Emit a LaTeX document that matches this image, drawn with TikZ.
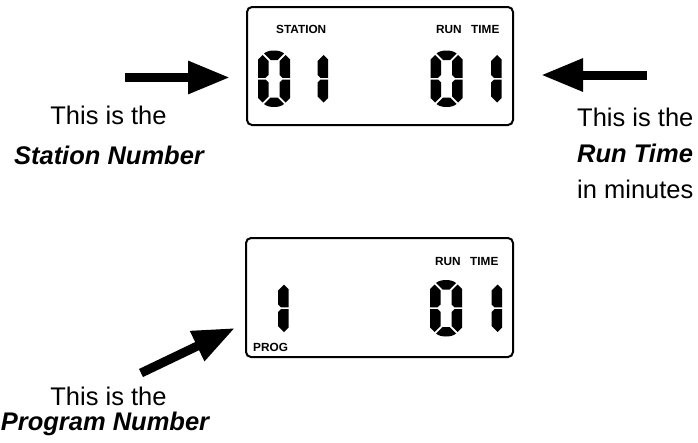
\documentclass[tikz,border=0pt]{standalone}
\usepackage{fontspec}
\setmainfont{Liberation Sans}
\usetikzlibrary{arrows.meta}
\tikzset{
  lcd/.style={draw=black, line width=2pt, rounded corners=5pt},
  seg/.style={fill=black, draw=none},
  lbl/.style={font=\fontsize{11.8}{14}\selectfont\bfseries, inner sep=0pt, anchor=base west},
  big/.style={font=\fontsize{25.5}{30}\selectfont, inner sep=0pt},
  bigbi/.style={font=\fontsize{25.5}{30}\selectfont\bfseries\itshape, inner sep=0pt},
  fatarrow/.style={line width=9pt, -{Triangle[length=42pt,width=31pt]}},
  segb/.pic={
    \fill[seg] (32,10) -- (27.5,5.5) -- (21.5,11.5) -- (21.5,25.5) -- (24.5,28.4) -- (32,28.4) -- cycle;
    \fill[seg] (32,30) -- (24.5,30) -- (21.5,33) -- (21.5,47) -- (27.5,53) -- (32,48.5) -- cycle;
  },
  digitzero/.pic={
    \fill[seg] (0,10) -- (4.5,5.5) -- (10.5,11.5) -- (10.5,25.5) -- (7.5,28.4) -- (0,28.4) -- cycle;
    \fill[seg] (0,30) -- (7.5,30) -- (10.5,33) -- (10.5,47) -- (4.5,53) -- (0,48.5) -- cycle;
    \pic {segb};
    \fill[seg] (6,4) .. controls (10,0) and (22,0) .. (26,4) -- (19.5,10.5) -- (12.5,10.5) -- cycle;
    \fill[seg] (6,54.5) .. controls (10,58.5) and (22,58.5) .. (26,54.5) -- (19.5,48) -- (12.5,48) -- cycle;
  },
  digitone/.pic={
    \pic {segb};
  }
}
\begin{document}
\begin{tikzpicture}[x=1pt,y=-1pt]
\useasboundingbox (0,0) rectangle (698,442);
% top display
\draw[lcd] (247,7) rectangle (513,125);
\node[lbl] (st) at (276,33) {STATION};
\node[lbl] (rt1) at (436,33) {RUN\hspace{0.8em}TIME};
\pic at (258,49.5) {digitzero};
\pic at (296,49.5) {digitone};
\pic at (430.5,49.5) {digitzero};
\pic at (469.5,49.5) {digitone};
% bottom display
\draw[lcd] (246,238) rectangle (513,357);
\node[lbl] (rt2) at (435,265) {RUN\hspace{0.8em}TIME};
\node[lbl] (pg) at (253,351) {PROG};
\pic at (256.5,279) {digitone};
\pic at (430,279) {digitzero};
\pic at (470,279) {digitone};
% texts
\node[big, anchor=base] (l1) at (108.5,124) {This is the};
\node[bigbi, anchor=base] (l2) at (109,164) {Station Number};
\node[big, anchor=base west] (r1) at (577,126) {This is the};
\node[bigbi, anchor=base west] (r2) at (577,162) {Run Time};
\node[big, anchor=base west] (r3) at (577,198) {in minutes};
\node[big, anchor=base] (b1) at (108.5,405) {This is the};
\node[bigbi, anchor=base] (b2) at (105,430) {Program Number};
% arrows
\coordinate (sa) at (125,77.5);
\coordinate (sb) at (230,77.5);
\coordinate (ra) at (647,75);
\coordinate (rb) at (541,75);
\coordinate (pa) at (141,373);
\coordinate (pb) at (235,328);
\draw[fatarrow] (sa) -- (sb);
\draw[fatarrow] (ra) -- (rb);
\draw[fatarrow] (pa) -- (pb);
\end{tikzpicture}
\end{document}
